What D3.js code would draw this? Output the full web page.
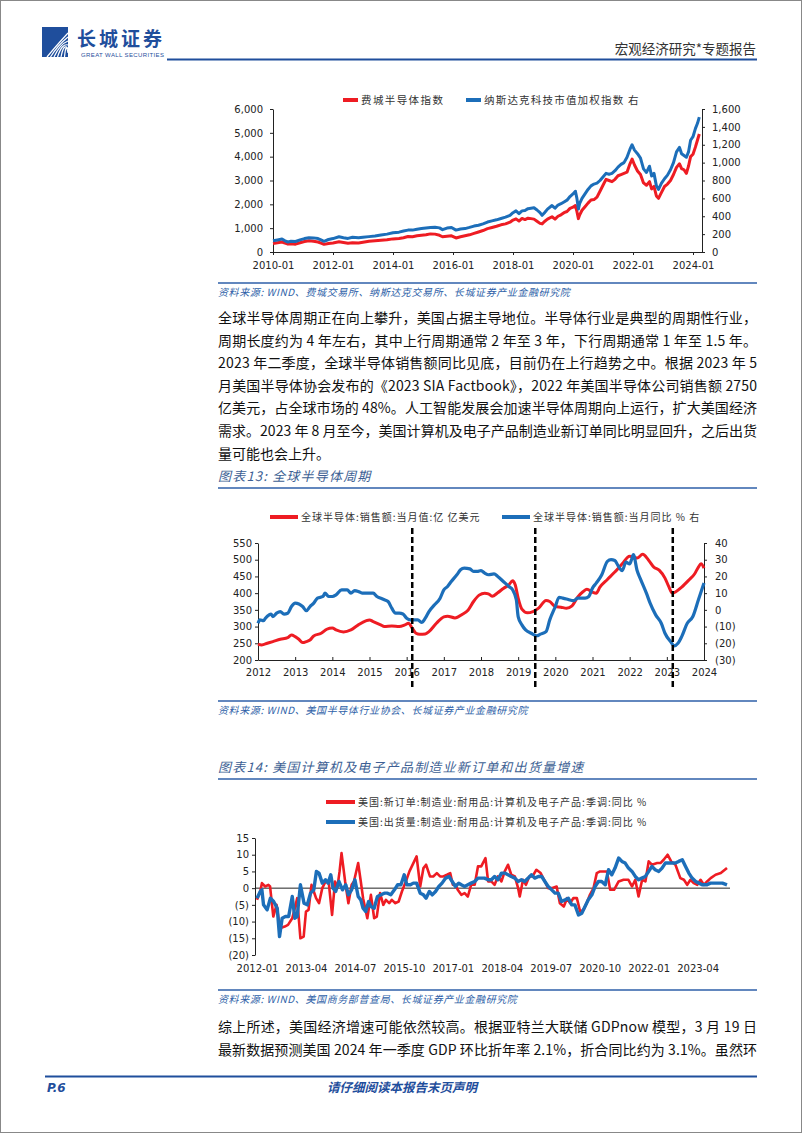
<!DOCTYPE html>
<html>
<head>
<meta charset="utf-8">
<script src="https://cdn.jsdelivr.net/npm/d3@7/dist/d3.min.js"></script>
<style>
  body { margin: 0; background: #fff; }
  svg { display: block; font-family: "Noto Sans CJK SC", sans-serif; }
  .axis text { font-family: "DejaVu Sans", sans-serif; font-size: 10px; fill: #222; }
  .axis line, .axis path { stroke: #222; }
</style>
</head>
<body>
<div id="page"></div>
<script>
// ---- chart 1: SOX vs Nasdaq tech ----
var c1Years = [2010.0, 2010.15, 2010.3, 2010.4, 2010.5, 2010.6, 2010.75, 2010.9, 2011.05, 2011.2, 2011.35, 2011.5, 2011.6, 2011.7, 2011.85,
  2012.0, 2012.2, 2012.35, 2012.5, 2012.65, 2012.85, 2013.0, 2013.2, 2013.4, 2013.6, 2013.8, 2014.0, 2014.2, 2014.35, 2014.5, 2014.65,
  2014.8, 2014.95, 2015.1, 2015.25, 2015.4, 2015.55, 2015.65, 2015.8, 2015.95, 2016.1, 2016.25, 2016.4, 2016.55, 2016.7, 2016.85,
  2017.0, 2017.15, 2017.3, 2017.45, 2017.6, 2017.75, 2017.9, 2018.0, 2018.1, 2018.2, 2018.3, 2018.4, 2018.5, 2018.6, 2018.7, 2018.8,
  2018.9, 2018.97, 2019.05, 2019.15, 2019.3, 2019.4, 2019.5, 2019.6, 2019.7, 2019.8, 2019.9, 2020.0, 2020.08, 2020.13, 2020.18,
  2020.22, 2020.3, 2020.4, 2020.5, 2020.6, 2020.7, 2020.8, 2020.9, 2021.0, 2021.1, 2021.2, 2021.3, 2021.4, 2021.5, 2021.6, 2021.7,
  2021.8, 2021.9, 2021.97, 2022.05, 2022.15, 2022.25, 2022.35, 2022.45, 2022.55, 2022.62, 2022.7, 2022.78, 2022.85, 2022.95,
  2023.05, 2023.15, 2023.25, 2023.35, 2023.45, 2023.55, 2023.62, 2023.7, 2023.78, 2023.85, 2023.92, 2024.0, 2024.08, 2024.15, 2024.21];
var soxValues = [360, 390, 420, 370, 330, 350, 330, 390, 440, 470, 450, 420, 370, 320, 360,
  380, 430, 400, 370, 390, 380, 410, 450, 470, 490, 510, 550, 570, 600, 650, 640,
  680, 700, 720, 760, 750, 700, 640, 660, 680, 590, 640, 680, 720, 780, 840,
  900, 980, 1030, 1080, 1140, 1180, 1250, 1340, 1390, 1300, 1410, 1360, 1420, 1400, 1380, 1290,
  1200, 1180, 1280, 1380, 1480, 1380, 1500, 1560, 1650, 1700, 1830, 1880, 1950, 1700, 1400,
  1550, 1750, 1900, 2050, 2180, 2200, 2300, 2550, 2800, 3050, 3000, 2950, 3050, 3200, 3250, 3300,
  3350, 3700, 3900, 3650, 3400, 3250, 2900, 2800, 2950, 2650, 2750, 2350, 2250, 2500,
  2750, 2850, 3000, 3250, 3550, 3700, 3500, 3450, 3300, 3600, 4000, 4100, 4400, 4700, 4950];
var techValues = [125, 135, 145, 125, 112, 120, 118, 135, 150, 160, 158, 150, 135, 120, 140,
  150, 170, 160, 152, 165, 160, 165, 172, 178, 190, 200, 215, 222, 235, 245, 245,
  255, 262, 268, 275, 278, 270, 250, 268, 275, 245, 258, 262, 275, 290, 300,
  315, 335, 348, 360, 375, 390, 410, 440, 460, 430, 460, 465, 485, 490, 495, 470,
  440, 410, 440, 480, 520, 490, 525, 540, 560, 580, 620, 650, 680, 600, 480,
  540, 600, 650, 700, 740, 760, 770, 800, 840, 880, 870, 880, 910, 950, 980, 1000,
  1060, 1150, 1200, 1140, 1100, 1050, 930, 890, 960, 850, 880, 740, 700, 770,
  820, 860, 920, 1000, 1120, 1170, 1100, 1080, 1060, 1120, 1250, 1290, 1380, 1440, 1510];

// ---- chart 2: global semiconductor sales ----
var salesYears = [2012.0, 2012.1, 2012.25, 2012.4, 2012.6, 2012.8, 2012.9, 2013.0, 2013.1, 2013.2, 2013.3, 2013.4, 2013.5, 2013.7, 2013.85,
  2014.0, 2014.1, 2014.3, 2014.5, 2014.7, 2014.9, 2015.0, 2015.1, 2015.3, 2015.4, 2015.6, 2015.8, 2015.95, 2016.05, 2016.15, 2016.25,
  2016.35, 2016.5, 2016.6, 2016.8, 2017.0, 2017.1, 2017.3, 2017.5, 2017.65, 2017.8, 2017.95, 2018.1, 2018.2, 2018.3, 2018.45, 2018.6,
  2018.75, 2018.85, 2018.92, 2019.0, 2019.1, 2019.25, 2019.4, 2019.55, 2019.75, 2019.85, 2020.0, 2020.15, 2020.3, 2020.45, 2020.6,
  2020.75, 2020.85, 2021.0, 2021.1, 2021.2, 2021.4, 2021.6, 2021.8, 2022.0, 2022.2, 2022.35, 2022.5, 2022.65, 2022.8, 2022.95,
  2023.05, 2023.15, 2023.25, 2023.4, 2023.6, 2023.75, 2023.85, 2023.92, 2024.0];
var salesValues = [247, 245, 250, 255, 262, 267, 275, 270, 262, 252, 255, 260, 272, 280, 292,
  296, 290, 284, 290, 305, 317, 320, 315, 305, 300, 302, 300, 305, 310, 295, 280,
  277, 278, 285, 310, 329, 331, 326, 337, 349, 375, 394, 400, 398, 391, 401, 414,
  425, 437, 425, 385, 352, 341, 345, 355, 378, 375, 360, 358, 355, 362, 388,
  405, 412, 403, 400, 418, 441, 463, 488, 510, 505, 516, 500, 478, 468, 445,
  420, 400, 405, 418, 440, 458, 478, 488, 475];
var yoyYears = [2012.0, 2012.05, 2012.15, 2012.2, 2012.3, 2012.35, 2012.4, 2012.5, 2012.6, 2012.7, 2012.8, 2012.9, 2013.0, 2013.1, 2013.2,
  2013.3, 2013.4, 2013.5, 2013.6, 2013.75, 2013.8, 2013.9, 2014.0, 2014.1, 2014.25, 2014.4, 2014.5, 2014.6, 2014.7, 2014.8, 2015.0,
  2015.1, 2015.2, 2015.3, 2015.4, 2015.5, 2015.6, 2015.7, 2015.8, 2015.9, 2016.0, 2016.1, 2016.3, 2016.4, 2016.5, 2016.6, 2016.75,
  2016.9, 2017.0, 2017.1, 2017.2, 2017.35, 2017.45, 2017.55, 2017.7, 2017.8, 2017.9, 2018.0, 2018.1, 2018.2, 2018.35, 2018.45,
  2018.6, 2018.75, 2018.85, 2018.95, 2019.0, 2019.1, 2019.2, 2019.35, 2019.5, 2019.6, 2019.75, 2019.85, 2020.0, 2020.1, 2020.2,
  2020.3, 2020.5, 2020.6, 2020.8, 2020.9, 2021.0, 2021.1, 2021.25, 2021.4, 2021.5, 2021.6, 2021.7, 2021.8, 2021.9, 2022.0, 2022.05,
  2022.1, 2022.2, 2022.3, 2022.45, 2022.55, 2022.7, 2022.85, 2022.95, 2023.1, 2023.2, 2023.3, 2023.4, 2023.55, 2023.7, 2023.85, 2024.0];
var yoyValues = [-8, -6, -6.5, -5, -3, -2.5, -4, -2, -1, -2.5, -2, 2, 4, 3.5, 2,
  -0.5, 2, 4, 7, 8, 10, 8, 8, 9, 12, 12, 10, 11.5, 11, 10, 10,
  10, 8, 7, 6, 5, 1, -2, -2, -2.5, -5, -6, -6, -7.5, -5, -1, 3,
  7, 12, 14, 17, 21, 24, 25, 24.5, 23, 23, 23.5, 22, 21, 21.5, 20,
  17, 14, 12, 6, -4, -9, -12, -14, -15.5, -14.5, -13, -6, 2, 7.5, 7,
  6.5, 5.5, 7, 7, 8, 13, 16, 21, 29, 30, 29.5, 26, 23.5, 28.5, 27.5, 30,
  33, 23.5, 18, 10, 4, -3, -8, -14, -19, -21.5, -20, -16, -8, -4, 6, 16];
var cycleMarks = [2016.15, 2019.46, 2023.16];

// ---- chart 3: US computer & electronics orders / shipments, month index from 2012-01 ----
var ordersMonths = [0, 1, 1.5, 2.5, 3.5, 4, 5, 6, 7, 8.5, 9.5, 10.8, 11.6, 12.3, 13.3, 14.3, 15, 15.8, 16.7, 17.4, 18.1, 19, 20, 21, 22,
  23, 23.9, 24.6, 25.3, 25.9, 27, 28, 29, 29.7, 31, 31.8, 32.5, 33.8, 34.9, 35.9, 36.7, 37.7, 38.7, 39.5, 40.5, 41.3, 42.4, 43.4, 44.4,
  45.6, 46.7, 48.9, 50, 51, 51.8, 53, 54, 55.1, 56.1, 57.1, 58.2, 59.2, 60, 60.8, 61.5, 62.6, 63.6, 64.6, 65.6, 66.7, 67.7, 68.7, 70,
  70.8, 71.8, 72.8, 73.8, 74.9, 75.9, 76.9, 77.9, 79, 80, 80.5, 81.5, 82.4, 83.4, 84.4, 85.6, 86.9, 88.2, 89.2, 90.3, 91.8, 92.8, 94,
  95, 95.9, 96.9, 98, 99, 100, 101, 102, 103.1, 104.1, 105.1, 106.2, 107.2, 108.2, 109.4, 110.8, 112.3, 113.8, 114.9, 115.9, 116.9,
  118, 119, 120, 121, 122.6, 123.6, 124.6, 125.8, 126.9, 128.2, 129.7, 130.8, 131.8, 132.8, 133.8, 134.9, 135.9, 136.9, 137.9, 139,
  140.5, 142.1, 144];
var ordersValues = [-3.5, -1, 1.5, 0.5, 1, 0.5, -8.5, -5, -12, -11.5, -11, -9, -6, -3, -15, -14.5, -7, -6.5, 1, -1, -3, -4.5, 0, 2, 1.5,
  -8, 2, 0, 5, 10.5, 2, -4.5, 1, 2, 7.5, 2, -3, -9, -2, -9, -8.5, -1.5, -5, -3.5, -4.5, -3.5, -4.5, -4, -1,
  2, 5, 9.5, 0.5, 6, 7, 3.5, 3.5, 4.5, 3.5, 3.5, 4, 4.5, 1, 1, -0.5, -2, -1.5, -2.5, 1, 1, 6.5, 6.5, 9,
  2, 2, 1, 3.5, 2, 5, 7, 4, 3.5, 0, -2.5, 2.5, 1, 3.5, 3.5, 5.5, 4.5, 2, 0, 0, 0.5, -4.5, -5.5,
  -3, -4.5, -3, -3, -7, -6.5, -4.5, -2, 0, 4.5, 5, 5, 5, -0.5, -0.5, 2, 2.5, 2.5, 0.5, 2.5, -2.5,
  2.5, 2, 8, 7, 7.5, 7.5, 8.5, 10, 8, 7, 3, 2.5, 1, 2.5, 1.5, 1, 2.5, 1, 2, 3,
  4, 4.5, 6];
var shipMonths = [0, 1, 1.5, 2, 3.1, 4.1, 5.1, 6.2, 6.9, 7.7, 8.7, 9.7, 10.8, 11.6, 12.3, 13.3, 14.4, 15.4, 16.4, 17.4, 18.2, 19, 20, 21,
  21.8, 22.6, 23.3, 24.1, 25.1, 26.2, 27.2, 28, 29, 30, 31, 31.8, 32.5, 33.3, 34.2, 34.9, 35.9, 36.9, 38, 39, 40, 41, 42.1, 43.1, 44.1,
  45.1, 45.9, 47, 47.9, 48.9, 50, 51, 51.8, 52.8, 53.7, 54.7, 55.7, 56.7, 57.8, 58.8, 59.8, 60.8, 61.8, 62.6, 63.6, 64.6, 65.6, 66.7,
  67.7, 68.7, 69.7, 70.8, 71.8, 72.8, 73.8, 74.9, 75.9, 76.9, 77.9, 79, 80, 81, 82, 83.1, 84.1, 85.1, 86.2, 87.2, 88.2, 89.2, 90.3,
  91.3, 92.3, 93.3, 94.4, 95.4, 96.4, 97.4, 98.5, 99.5, 100.5, 101.5, 102.6, 103.6, 104.6, 105.6, 106.7, 107.7, 108.7, 109.7, 110.8,
  111.8, 112.8, 113.8, 114.9, 115.9, 116.9, 117.9, 119, 120, 121, 122, 123.1, 124.1, 125.1, 126.2, 127.2, 128.2, 129.2, 130.3, 131.3,
  132.3, 133.3, 134.4, 135.4, 136.4, 137.9, 138.9, 140, 141, 142.6, 144];
var shipValues = [-3, -1, -0.5, -5, -6.5, -3, -4, -6, -14.5, -9, -8.5, -8.5, -2.5, -9, -8.5, 1, -4.5, -5, -1.5, -0.5, 5, 4.5, 1.5, 2.5,
  1.5, 4, 0, -1, 2, -0.5, 1, -2, -0.5, 2.5, -2.5, -3.5, -6, -7, -4, -5.5, -6, -2.5, -2, -1.5, -1.5, -2, -0.5, 1, 1,
  4, 1, 1, 1.5, 1.5, -1.5, -2, -3, -1, -2, -1, 0.5, 1.5, 3, 3.5, 2, 0.5, 1.5, 1, 0.5, 1, 1.5, 2,
  3, 3, 3, 2.5, 2.5, 3.5, 2.5, 4.5, 4.5, 4, 3.5, 3, 2, 2.5, 2, 3, 4, 3, 3.5, 3.5, 2, 0.5, -0.5,
  -1.5, -1.5, -4, -3.5, -3, -5, -5, -8, -7.5, -5.5, -3.5, -2, 0.5, 2, 2, 1, 5.5, 4, 6, 9,
  8, 7.5, 6, 5, 3.5, 2.5, 3, 3.5, 5, 6.5, 5.5, 5, 6, 7.5, 7.5, 7.5, 7.5, 8, 8.5, 6.5,
  4.5, 3, 2, 1.5, 1, 1, 1.5, 1.5, 1.5, 1.5, 1];
var monthTicks = [0, 15, 30, 45, 60, 75, 90, 105, 120, 135];

// ---- page text ----
var para1 = [
  "全球半导体周期正在向上攀升，美国占据主导地位。半导体行业是典型的周期性行业，",
  "周期长度约为 4 年左右，其中上行周期通常 2 年至 3 年，下行周期通常 1 年至 1.5 年。",
  "2023 年二季度，全球半导体销售额同比见底，目前仍在上行趋势之中。根据 2023 年 5",
  "月美国半导体协会发布的《2023 SIA Factbook》，2022 年美国半导体公司销售额 2750",
  "亿美元，占全球市场的 48%。人工智能发展会加速半导体周期向上运行，扩大美国经济",
  "需求。2023 年 8 月至今，美国计算机及电子产品制造业新订单同比明显回升，之后出货",
  "量可能也会上升。"];
var para2 = [
  "综上所述，美国经济增速可能依然较高。根据亚特兰大联储 GDPnow 模型，3 月 19 日",
  "最新数据预测美国 2024 年一季度 GDP 环比折年率 2.1%，折合同比约为 3.1%。虽然环"];

var RED = "#EE1C23", BLUE = "#1C6EB9", NAVY = "#1F4E9C", SRC = "#2E5FA8";

var svg = d3.select("#page").append("svg")
    .attr("width", 802)
    .attr("height", 1133);

svg.append("rect")
    .attr("x", 0.5).attr("y", 0.5)
    .attr("width", 801).attr("height", 1132)
    .attr("fill", "#fff").attr("stroke", "#888");

//Header
svg.append("rect").attr("x", 42).attr("y", 27).attr("width", 26).attr("height", 30).attr("fill", NAVY);
[0, 1, 2, 3, 4, 5].forEach(function(k) {
    svg.append("path")
        .attr("d", `M${47 + k * 3.5},57 Q${56 + k * 2},${46 - k} 68,${33 + k * 4}`)
        .attr("fill", "none").attr("stroke", "#fff").attr("stroke-width", 1.2);
});
svg.append("text").attr("x", 77).attr("y", 46)
    .attr("font-size", 19).attr("font-weight", "bold").attr("fill", NAVY)
    .attr("letter-spacing", 3).text("长城证券");
svg.append("text").attr("x", 81).attr("y", 57)
    .attr("font-family", "Liberation Sans, sans-serif").attr("font-size", 6).attr("fill", NAVY)
    .attr("textLength", 83).text("GREAT WALL SECURITIES");
svg.append("text").attr("x", 756).attr("y", 54).attr("text-anchor", "end")
    .attr("font-size", 13.5).attr("fill", "#333").text("宏观经济研究*专题报告");
svg.append("line").attr("x1", 167).attr("x2", 757).attr("y1", 59.5).attr("y2", 59.5)
    .attr("stroke", NAVY).attr("stroke-width", 2);

//Helpers
function legendItem(x, y, color, label, len, fs, ls) {
    svg.append("line").attr("x1", x).attr("x2", x + len).attr("y1", y).attr("y2", y)
        .attr("stroke", color).attr("stroke-width", 4);
    svg.append("text").attr("x", x + len + 3).attr("y", y + 4)
        .attr("font-size", fs).attr("letter-spacing", ls).attr("fill", "#333").text(label);
}
function source(y, label) {
    svg.append("line").attr("x1", 218).attr("x2", 757).attr("y1", y).attr("y2", y)
        .attr("stroke", SRC).attr("stroke-width", 1.5);
    svg.append("text").attr("x", 218).attr("y", y + 13)
        .attr("font-size", 10).attr("font-style", "italic").attr("letter-spacing", 0.6)
        .attr("fill", SRC).text(label);
}
function title(y, label) {
    svg.append("text").attr("x", 218).attr("y", y)
        .attr("font-size", 13).attr("font-style", "italic").attr("letter-spacing", 1.2)
        .attr("fill", "#3D5F94").text(label);
    svg.append("line").attr("x1", 218).attr("x2", 757).attr("y1", y + 7).attr("y2", y + 7)
        .attr("stroke", SRC).attr("stroke-width", 1.5);
}
function paragraph(lines, y0, dy, justifyLast) {
    lines.forEach(function(t, i) {
        var tx = svg.append("text").attr("x", 218).attr("y", y0 + i * dy)
            .attr("font-size", 14).attr("fill", "#111").text(t);
        if (i < lines.length - 1 || justifyLast) {
            tx.attr("textLength", 539).attr("lengthAdjust", "spacing");
        }
    });
}
function negLabel(v) { return v < 0 ? "(" + (-v) + ")" : String(v); }
function colorNeg(g) { g.selectAll(".tick text").attr("fill", function(d) { return d < 0 ? RED : "#222"; }); }

//Chart 1
var x1 = d3.scaleLinear().domain([2010, 2024.3]).range([273, 702]);
var y1L = d3.scaleLinear().domain([0, 6000]).range([252, 109]);
var y1R = d3.scaleLinear().domain([0, 1600]).range([252, 109]);

legendItem(343, 100, RED, "费城半导体指数", 15, 10.5, 1.4);
legendItem(466, 100, BLUE, "纳斯达克科技市值加权指数 右", 15, 10.5, 1.2);

svg.append("g").attr("class", "axis").attr("transform", "translate(0,252)")
    .call(d3.axisBottom(x1).tickValues(d3.range(2010, 2025, 2)).tickFormat(d => d + "-01")
        .tickSizeInner(3).tickSizeOuter(0).tickPadding(7));
svg.append("g").attr("class", "axis").attr("transform", "translate(273,0)")
    .call(d3.axisLeft(y1L).tickValues(d3.range(0, 6001, 1000)).tickFormat(d3.format(","))
        .tickSizeInner(3).tickSizeOuter(0).tickPadding(7));
svg.append("g").attr("class", "axis").attr("transform", "translate(702,0)")
    .call(d3.axisRight(y1R).tickValues(d3.range(0, 1601, 200)).tickFormat(d3.format(","))
        .tickSizeInner(3).tickSizeOuter(0).tickPadding(7));

svg.append("path").datum(d3.zip(c1Years, soxValues))
    .attr("fill", "none").attr("stroke", RED).attr("stroke-width", 3).attr("stroke-linejoin", "round")
    .attr("d", d3.line().x(d => x1(d[0])).y(d => y1L(d[1])));
svg.append("path").datum(d3.zip(c1Years, techValues))
    .attr("fill", "none").attr("stroke", BLUE).attr("stroke-width", 3).attr("stroke-linejoin", "round")
    .attr("d", d3.line().x(d => x1(d[0])).y(d => y1R(d[1])));

source(283, "资料来源: WIND、费城交易所、纳斯达克交易所、长城证券产业金融研究院");
paragraph(para1, 323, 22.6, false);

//Chart 2
title(481, "图表13:  全球半导体周期");
var x2 = d3.scaleLinear().domain([2012, 2024]).range([258, 704]);
var y2L = d3.scaleLinear().domain([200, 550]).range([660, 543]);
var y2R = d3.scaleLinear().domain([-30, 40]).range([660, 543]);

legendItem(270, 517, RED, "全球半导体:销售额:当月值:亿 亿美元", 28, 10, 1);
legendItem(502, 517, BLUE, "全球半导体:销售额:当月同比 % 右", 28, 10, 1);

svg.append("g").attr("class", "axis").attr("transform", "translate(0,660)")
    .call(d3.axisBottom(x2).tickValues(d3.range(2012, 2025)).tickFormat(d3.format("d"))
        .tickSizeInner(-3).tickSizeOuter(0).tickPadding(9));
svg.append("g").attr("class", "axis").attr("transform", "translate(258,0)")
    .call(d3.axisLeft(y2L).tickValues(d3.range(200, 551, 50))
        .tickSizeInner(3).tickSizeOuter(0).tickPadding(3));
svg.append("g").attr("class", "axis").attr("transform", "translate(704,0)")
    .call(d3.axisRight(y2R).tickValues(d3.range(-30, 41, 10)).tickFormat(negLabel)
        .tickSizeInner(3).tickSizeOuter(0).tickPadding(8))
    .call(colorNeg);

svg.append("path").datum(d3.zip(salesYears, salesValues))
    .attr("fill", "none").attr("stroke", RED).attr("stroke-width", 3)
    .attr("d", d3.line().curve(d3.curveMonotoneX).x(d => x2(d[0])).y(d => y2L(d[1])));
svg.append("path").datum(d3.zip(yoyYears, yoyValues))
    .attr("fill", "none").attr("stroke", BLUE).attr("stroke-width", 3.2)
    .attr("d", d3.line().curve(d3.curveMonotoneX).x(d => x2(d[0])).y(d => y2R(d[1])));

svg.selectAll(".cycle").data(cycleMarks).enter().append("line")
    .attr("x1", d => x2(d)).attr("x2", d => x2(d))
    .attr("y1", 528).attr("y2", 688)
    .attr("stroke", "#000").attr("stroke-width", 2.5).attr("stroke-dasharray", "6,3");

source(701, "资料来源: WIND、美国半导体行业协会、长城证券产业金融研究院");

//Chart 3
title(772, "图表14:  美国计算机及电子产品制造业新订单和出货量增速");
var x3 = d3.scaleLinear().domain([0, 144]).range([257, 727]);
var y3 = d3.scaleLinear().domain([-20, 15]).range([955, 838]);

legendItem(326, 802, RED, "美国:新订单:制造业:耐用品:计算机及电子产品:季调:同比 %", 29, 10, 1);
legendItem(326, 822, BLUE, "美国:出货量:制造业:耐用品:计算机及电子产品:季调:同比 %", 29, 10, 1);

svg.append("g").attr("class", "axis").attr("transform", "translate(0,955)")
    .call(d3.axisBottom(x3).tickValues(monthTicks)
        .tickFormat(m => (2012 + Math.floor(m / 12)) + "-" + d3.format("02")(m % 12 + 1))
        .tickSize(0).tickPadding(10))
    .call(g => g.select(".domain").remove());
svg.append("g").attr("class", "axis").attr("transform", "translate(255,0)")
    .call(d3.axisLeft(y3).tickValues(d3.range(-20, 16, 5)).tickFormat(negLabel)
        .tickSizeInner(3).tickSizeOuter(0).tickPadding(3))
    .call(colorNeg);
svg.append("line").attr("x1", 255).attr("x2", 730).attr("y1", y3(0)).attr("y2", y3(0))
    .attr("stroke", "#222").attr("stroke-width", 1);

svg.append("path").datum(d3.zip(ordersMonths, ordersValues))
    .attr("fill", "none").attr("stroke", RED).attr("stroke-width", 2.6).attr("stroke-linejoin", "round")
    .attr("d", d3.line().x(d => x3(d[0])).y(d => y3(d[1])));
svg.append("path").datum(d3.zip(shipMonths, shipValues))
    .attr("fill", "none").attr("stroke", BLUE).attr("stroke-width", 3.4).attr("stroke-linejoin", "round")
    .attr("d", d3.line().x(d => x3(d[0])).y(d => y3(d[1])));

source(990, "资料来源: WIND、美国商务部普查局、长城证券产业金融研究院");
paragraph(para2, 1032, 23, true);

//Footer
svg.append("line").attr("x1", 45).attr("x2", 757).attr("y1", 1076.5).attr("y2", 1076.5)
    .attr("stroke", NAVY).attr("stroke-width", 2);
svg.append("text").attr("x", 47).attr("y", 1092)
    .attr("font-family", "DejaVu Sans, sans-serif").attr("font-size", 12)
    .attr("font-weight", "bold").attr("font-style", "italic").attr("fill", NAVY).text("P.6");
svg.append("text").attr("x", 402).attr("y", 1092).attr("text-anchor", "middle")
    .attr("font-size", 12.5).attr("font-weight", "bold").attr("font-style", "italic")
    .attr("fill", NAVY).text("请仔细阅读本报告末页声明");
</script>
</body>
</html>
